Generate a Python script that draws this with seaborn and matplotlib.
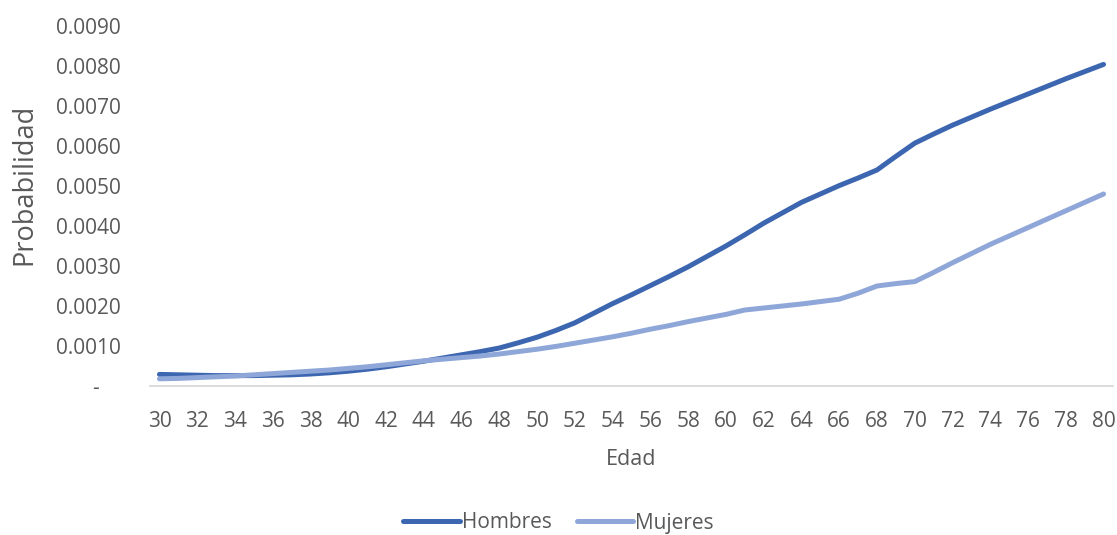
import numpy as np
import pandas as pd
import matplotlib
matplotlib.use("Agg")
import matplotlib.pyplot as plt
from matplotlib.ticker import FuncFormatter
import seaborn as sns

# Edades (una categoría por año)
edad = list(range(30, 81))

hombres = [
    0.00029, 0.00028, 0.00027, 0.00026, 0.00026, 0.00026, 0.00027, 0.00028, 0.00030, 0.00033,
    0.00037, 0.00042, 0.00048, 0.00055, 0.00062, 0.00070, 0.00078, 0.00086, 0.00095, 0.00108,
    0.00122, 0.00139, 0.00158, 0.00182, 0.00206, 0.00228, 0.00251, 0.00274, 0.00298, 0.00324,
    0.00350, 0.00378, 0.00407, 0.00433, 0.00459, 0.00480, 0.00501, 0.00520, 0.00540, 0.00574,
    0.00607, 0.00630, 0.00652, 0.00672, 0.00692, 0.00711, 0.00730, 0.00749, 0.00768, 0.00786,
    0.00804,
]

mujeres = [
    0.00018, 0.00019, 0.00021, 0.00023, 0.00025, 0.00028, 0.00031, 0.00034, 0.00037, 0.00040,
    0.00044, 0.00048, 0.00053, 0.00058, 0.00063, 0.00067, 0.00071, 0.00075, 0.00080, 0.00086,
    0.00092, 0.00099, 0.00107, 0.00115, 0.00123, 0.00132, 0.00142, 0.00151, 0.00161, 0.00170,
    0.00179, 0.00190, 0.00195, 0.00200, 0.00205, 0.00211, 0.00217, 0.00232, 0.00250, 0.00256,
    0.00261, 0.00284, 0.00308, 0.00331, 0.00354, 0.00375, 0.00396, 0.00417, 0.00438, 0.00459,
    0.00480,
]

series = ["Hombres", "Mujeres"]
colores = ["#3D66B0", "#8FA7D8"]
y_ticks = [0.0, 0.001, 0.002, 0.003, 0.004, 0.005, 0.006, 0.007, 0.008, 0.009]
x_ticks = list(range(30, 81, 2))

df = pd.DataFrame({
    "Edad": edad * 2,
    "Probabilidad": hombres + mujeres,
    "Sexo": [series[0]] * len(edad) + [series[1]] * len(edad),
})

sns.set_theme(style="white")
plt.rcParams["font.family"] = ["Open Sans", "DejaVu Sans"]
texto = "#595959"

fig = plt.figure(figsize=(11.17, 5.35), dpi=100)
ax = fig.add_axes([0.1343, 0.2785, 0.8621, 0.6729])

sns.lineplot(
    data=df, x="Edad", y="Probabilidad", hue="Sexo",
    palette=dict(zip(series, colores)), hue_order=series,
    linewidth=3.6, ax=ax, legend=True,
)
for ln in ax.get_lines():
    ln.set_solid_capstyle("round")
    ln.set_solid_joinstyle("round")

ax.set_xlim(29.5, 80.5)
ax.set_ylim(0, 0.009)
ax.set_xticks(x_ticks)
ax.set_yticks(y_ticks)
ax.yaxis.set_major_formatter(
    FuncFormatter(lambda v, p: "-    " if abs(v) < 1e-12 else f"{v:.4f}")
)

for side in ["top", "right", "left"]:
    ax.spines[side].set_visible(False)
ax.spines["bottom"].set_color("#D9D9D9")
ax.spines["bottom"].set_linewidth(1.3)

ax.tick_params(axis="both", length=0, labelsize=15, labelcolor=texto)
ax.tick_params(axis="x", pad=18)
ax.tick_params(axis="y", pad=21)

ax.set_xlabel("Edad", fontsize=15.5, color=texto, labelpad=12.5)
ax.set_ylabel("Probabilidad", fontsize=19.5, color=texto)
ax.yaxis.set_label_coords(-0.116, 0.56)
ax.grid(False)

handles, labels = ax.get_legend_handles_labels()
ax.legend(
    handles, labels, loc="center", bbox_to_anchor=(0.5, 1 - 523 / 535),
    bbox_transform=fig.transFigure, ncol=2, frameon=False,
    fontsize=15, labelcolor=texto, handlelength=2.7, handletextpad=0.1,
    columnspacing=1.2, borderaxespad=0,
)

fig.savefig("out.png", dpi=100)
